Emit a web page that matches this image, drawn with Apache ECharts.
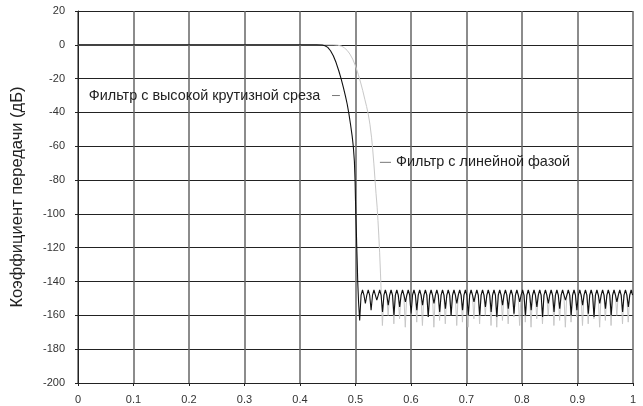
<!DOCTYPE html>
<html>
<head>
<meta charset="utf-8">
<script src="https://cdn.jsdelivr.net/npm/echarts@6/dist/echarts.min.js"></script>
<style>
  html, body { margin: 0; padding: 0; background: #fff; }
  #chart { width: 643px; height: 406px; }
</style>
</head>
<body>
<div id="chart"></div>
<script>
// Normalised frequency axis and gain axis
const xMin = 0, xMax = 1, xStep = 0.1;
const yMin = -200, yMax = 20, yStep = 20;

// Steep-cutoff filter: passband and transition band [freq, dB]
const steepTransition = [
  [0, 0], [0.43, 0], [0.44, -0.1], [0.445, -0.5], [0.45, -1.5], [0.455, -3.5],
  [0.46, -6.5], [0.465, -10.5], [0.47, -15.5], [0.474, -20], [0.478, -25],
  [0.482, -30.5], [0.485, -35], [0.488, -40.5], [0.491, -47], [0.494, -54],
  [0.496, -60], [0.498, -69], [0.4992, -80], [0.5, -92], [0.5006, -100],
  [0.5015, -110], [0.5023, -120], [0.5032, -130], [0.504, -140], [0.5055, -152]
];
// Steep-cutoff filter: stopband, sampled every stopStep from steepStopStart
const steepStopStart = 0.5075;
const stopStep = 0.002575;
const steepStopDb = [
  -163, -148, -145, -148,  -153, -148, -145, -148,  -157, -148, -145, -148,
  -151, -148, -145, -148,  -158, -148, -145, -148,  -154, -148, -145, -148,
  -160, -148, -145, -148,  -155, -148, -145, -148,  -152, -148, -145, -148,
  -159, -148, -145, -148,  -157, -148, -145, -148,  -154, -148, -145, -148,
  -161, -148, -145, -148,  -153, -148, -145, -148,  -158, -148, -145, -148,
  -156, -148, -145, -148,  -160, -148, -145, -148,  -153, -148, -145, -148,
  -157, -148, -145, -148,  -160, -148, -145, -148,  -152, -148, -145, -148,
  -160, -148, -145, -148,  -155, -148, -145, -148,  -158, -148, -145, -148,
  -161, -148, -145, -148,  -154, -148, -145, -148,  -156, -148, -145, -148,
  -159, -148, -145, -148,  -152, -148, -145, -148,  -160, -148, -145, -148,
  -157, -148, -145, -148,  -155, -148, -145, -148,  -161, -148, -145, -148,
  -153, -148, -145, -148,  -158, -148, -145, -148,  -156, -148, -145, -148,
  -151, -148, -145, -148,  -160, -148, -145, -148,  -157, -148, -145, -148,
  -154, -148, -145, -148,  -159, -148, -145, -148,  -161, -148, -145, -148,
  -153, -148, -145, -148,  -156, -148, -145, -148,  -160, -148, -145, -148,
  -152, -148, -145, -148,  -158, -148, -145, -148,  -155, -148, -145, -148
];

// Linear-phase filter: passband and transition band [freq, dB]
const linearTransition = [
  [0, 0], [0.46, 0], [0.468, -0.2], [0.475, -0.8], [0.48, -1.8], [0.485, -3.3],
  [0.49, -5.5], [0.495, -8.5], [0.5, -12.5], [0.505, -17.5], [0.509, -22],
  [0.513, -27], [0.517, -32.5], [0.52, -36.5], [0.523, -41], [0.526, -47],
  [0.529, -55], [0.531, -62], [0.533, -70], [0.535, -79], [0.537, -88],
  [0.539, -96], [0.5405, -104], [0.542, -113], [0.5435, -123], [0.545, -135],
  [0.5465, -148]
];
// Linear-phase filter: stopband, sampled every stopStep from linearStopStart
const linearStopStart = 0.5485;
const linearStopDb = [
  -166, -148, -145, -148,  -160, -148, -145, -148,  -165, -148, -145, -148,
  -162, -148, -145, -148,  -167, -148, -145, -148,  -159, -148, -145, -148,
  -164, -148, -145, -148,  -166, -148, -145, -148,  -161, -148, -145, -148,
  -167, -148, -145, -148,  -163, -148, -145, -148,  -165, -148, -145, -148,
  -160, -148, -145, -148,  -166, -148, -145, -148,  -164, -148, -145, -148,
  -167, -148, -145, -148,  -162, -148, -145, -148,  -165, -148, -145, -148,
  -160, -148, -145, -148,  -166, -148, -145, -148,  -167, -148, -145, -148,
  -163, -148, -145, -148,  -165, -148, -145, -148,  -161, -148, -145, -148,
  -166, -148, -145, -148,  -164, -148, -145, -148,  -167, -148, -145, -148,
  -162, -148, -145, -148,  -165, -148, -145, -148,  -160, -148, -145, -148,
  -166, -148, -145, -148,  -163, -148, -145, -148,  -167, -148, -145, -148,
  -164, -148, -145, -148,  -161, -148, -145, -148,  -166, -148, -145, -148,
  -165, -148, -145, -148,  -162, -148, -145, -148,  -167, -148, -145, -148,
  -163, -148, -145, -148,  -166, -148, -145, -148,  -160, -148, -145, -148,
  -165, -148, -145, -148,  -164, -148, -145, -148
];

const seriesNames = ['Фильтр с высокой крутизной среза', 'Фильтр с линейной фазой'];
const yAxisTitle = 'Коэффициент передачи (дБ)';

function buildCurve(transition, start, step, stopDb) {
  const pts = transition.map(p => [p[0], p[1]]);
  stopDb.forEach((v, i) => {
    const f = +(start + i * step).toFixed(5);
    if (f <= xMax) pts.push([f, v]);
  });
  return pts;
}

const steepData = buildCurve(steepTransition, steepStopStart, stopStep, steepStopDb);
const linearData = buildCurve(linearTransition, linearStopStart, stopStep, linearStopDb);

const font = '"Liberation Sans", Arial, sans-serif';
const chart = echarts.init(document.getElementById('chart'), null, { renderer: 'canvas' });

chart.setOption({
  animation: false,
  backgroundColor: '#fff',
  grid: { left: 78, right: 10, top: 11, bottom: 23, containLabel: false },
  xAxis: {
    type: 'value', min: xMin, max: xMax, interval: xStep,
    axisLine: { show: true, onZero: false, lineStyle: { color: '#222', width: 1 } },
    axisTick: { show: true, length: 3, lineStyle: { color: '#222' } },
    axisLabel: { color: '#333', fontFamily: font, fontSize: 11, margin: 11 },
    splitLine: { show: true, lineStyle: { color: '#666', width: 1.5 } }
  },
  yAxis: {
    type: 'value', min: yMin, max: yMax, interval: yStep,
    name: yAxisTitle, nameLocation: 'middle', nameGap: 52, nameRotate: 90,
    nameTextStyle: { color: '#222', fontFamily: font, fontSize: 16.5 },
    axisLine: { show: true, onZero: false, lineStyle: { color: '#222', width: 1 } },
    axisTick: { show: true, length: 3, lineStyle: { color: '#222' } },
    axisLabel: { color: '#333', fontFamily: font, fontSize: 11, margin: 13 },
    splitLine: { show: true, lineStyle: { color: '#222', width: 1 } }
  },
  series: [
    {
      name: seriesNames[1], type: 'line', data: linearData,
      showSymbol: false, smooth: false, z: 3,
      lineStyle: { color: '#c8c8c8', width: 1 }
    },
    {
      name: seriesNames[0], type: 'line', data: steepData,
      showSymbol: false, smooth: false, z: 4,
      lineStyle: { color: '#111', width: 1.1 }
    }
  ]
});

// Series annotations with short leader dashes, placed in data coordinates
function px(f, db) { return chart.convertToPixel({ gridIndex: 0 }, [f, db]); }
const a1 = px(0.4365, -30), d1a = px(0.4577, -30), d1b = px(0.4719, -30);
const a2 = px(0.573, -69.5), d2a = px(0.544, -69.5), d2b = px(0.564, -69.5);
chart.setOption({
  graphic: [
    { type: 'text', x: a1[0], y: a1[1], style: { text: seriesNames[0], font: '14.4px ' + font, fill: '#222', align: 'right', verticalAlign: 'middle' } },
    { type: 'line', shape: { x1: d1a[0], y1: d1a[1], x2: d1b[0], y2: d1b[1] }, style: { stroke: '#777', lineWidth: 1 } },
    { type: 'text', x: a2[0], y: a2[1], style: { text: seriesNames[1], font: '14.4px ' + font, fill: '#222', align: 'left', verticalAlign: 'middle' } },
    { type: 'line', shape: { x1: d2a[0], y1: d2a[1], x2: d2b[0], y2: d2b[1] }, style: { stroke: '#777', lineWidth: 1 } }
  ]
});
</script>
</body>
</html>
